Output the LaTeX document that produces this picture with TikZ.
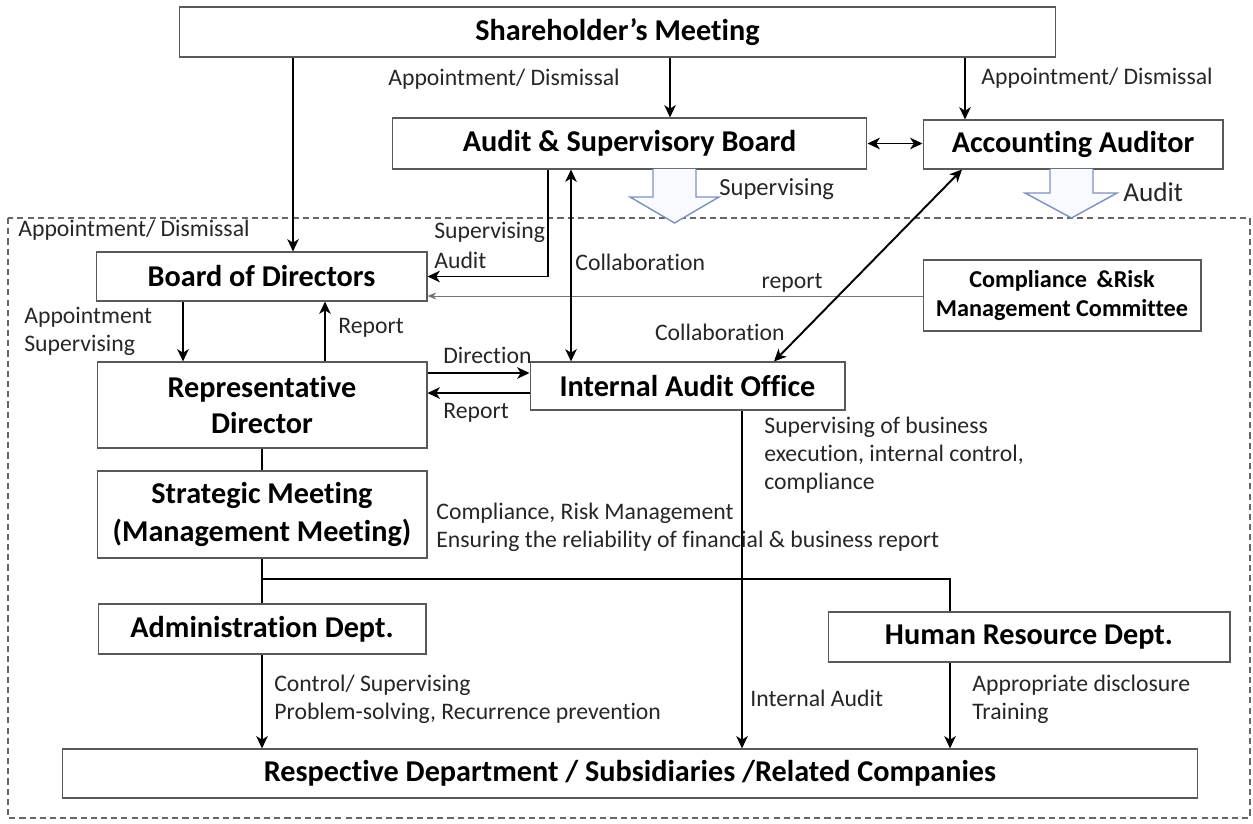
\documentclass[tikz,border=0pt]{standalone}
\usepackage{fontspec}
\setmainfont{Carlito}[Ligatures=NoCommon]
\usetikzlibrary{arrows.meta}

\definecolor{hollowline}{RGB}{125,145,190}
\definecolor{hollowfill}{RGB}{249,250,255}

\tikzset{
  box/.style={draw=black!65, line width=0.6pt, fill=white, inner sep=0pt,
    align=center, font=\fontsize{17.2}{20}\selectfont\bfseries},
  lbl/.style={anchor=west, inner sep=0pt, align=left,
    font=\fontsize{13.5}{16}\selectfont, text=black!85},
  arr/.style={-{Stealth[length=7pt,width=6.5pt,inset=2pt]}, line width=1.1pt},
  darr/.style={{Stealth[length=7pt,width=6.5pt,inset=2pt]}-{Stealth[length=7pt,width=6.5pt,inset=2pt]}, line width=1.1pt},
  hollow/.style={draw=hollowline, line width=0.8pt, fill=hollowfill}
}

\begin{document}
\begin{tikzpicture}[x=0.02cm, y=-0.02cm]
    \useasboundingbox (0,0) rectangle (1253,824);

    % outer dashed frame
    \draw[black!60, line width=0.7pt, dash pattern=on 3.5pt off 2.3pt] (8,218) rectangle (1250,818);

    % boxes
    \node[box, minimum width=17.54cm, minimum height=1.0cm] (sm) at (617.5,32) {Shareholder’s Meeting};
    \node[box, minimum width=9.5cm, minimum height=1.02cm] (asb) at (629.5,143.5) {Audit \& Supervisory Board};
    \node[box, minimum width=6.0cm, minimum height=0.98cm] (aa) at (1073,144.5) {Accounting Auditor};
    \node[box, minimum width=6.62cm, minimum height=0.98cm] (bod) at (261.5,276.5) {Board of Directors};
    \node[box, minimum width=5.56cm, minimum height=1.42cm,
          font=\fontsize{13.8}{16}\selectfont\bfseries] (crm) at (1062,295.5) {Compliance \,\&Risk\\Management Committee};
    \node[box, minimum width=6.6cm, minimum height=1.72cm] (rd) at (262,405) {Representative\\Director};
    \node[box, minimum width=6.3cm, minimum height=0.96cm] (iao) at (687.5,386) {Internal Audit Office};
    \node[box, minimum width=6.6cm, minimum height=1.74cm,
          font=\fontsize{17.2}{22}\selectfont\bfseries] (stm) at (262,514.5) {Strategic Meeting\\(Management Meeting)};
    \node[box, minimum width=6.56cm, minimum height=1.0cm] (adm) at (262,629) {Administration Dept.};
    \node[box, minimum width=8.04cm, minimum height=1.0cm] (hrd) at (1029,637) {Human Resource Dept.};
    \node[box, minimum width=22.72cm, minimum height=0.98cm] (rsp) at (630,773.5) {Respective Department / Subsidiaries /Related Companies};

    % hollow arrows
    \draw[hollow] (653,169) -- (653,197) -- (630,197) -- (674.5,223) -- (719,197) -- (696,197) -- (696,169);
    \draw[hollow] (1050,169) -- (1050,193) -- (1025,193) -- (1071.5,218) -- (1117,193) -- (1093,193) -- (1093,169);

    % connectors
    \draw[arr] (sm.south -| 293,0) -- (bod.north -| 293,0);
    \draw[arr] (sm.south -| 670,0) -- (asb.north -| 670,0);
    \draw[arr] (sm.south -| 965,0) -- (aa.north -| 965,0);
    \draw[darr] (asb.east) -- (asb.east -| aa.west);
    \draw[arr] (asb.south -| 548,0) |- (bod.east);
    \draw[black!55, line width=0.5pt, -{Stealth[length=5pt,width=4pt]}] (crm.west |- 0,296) -- (bod.east |- 0,296);
    \draw[darr] (asb.south -| 571,0) -- (iao.north -| 571,0);
    \draw[darr] (aa.south -| 962,0) -- (iao.north -| 774,0);
    \draw[arr] (bod.south -| 183,0) -- (rd.north -| 183,0);
    \draw[arr] (rd.north -| 325,0) -- (bod.south -| 325,0);
    \draw[arr] (rd.east |- 0,373) -- (iao.west |- 0,373);
    \draw[arr] (iao.west |- 0,393) -- (rd.east |- 0,393);
    \draw[line width=1.1pt] (rd.south) -- (stm.north);
    \draw[line width=1.1pt] (stm.south) -- (adm.north);
    \draw[line width=1.1pt] (stm.south |- 0,579) -| (hrd.north -| 950,0);
    \draw[arr] (iao.south -| 742,0) -- (rsp.north -| 742,0);
    \draw[arr] (adm.south) -- (rsp.north -| adm.south);
    \draw[arr] (hrd.south -| 950,0) -- (rsp.north -| 950,0);

    % labels
    \node[lbl] (l1) at (388,79) {Appointment/ Dismissal};
    \node[lbl] (l2) at (981,78) {Appointment/ Dismissal};
    \node[lbl, font=\fontsize{14}{16}\selectfont] (l3) at (719,189) {Supervising};
    \node[lbl, font=\fontsize{15.5}{16}\selectfont] (l4) at (1123,192) {Audit};
    \node[lbl] (l5) at (18,230) {Appointment/ Dismissal};
    \node[lbl, font=\fontsize{13.5}{17}\selectfont] (l6) at (434,245) {Supervising\\Audit};
    \node[lbl] (l7) at (575,262) {Collaboration};
    \node[lbl, anchor=center] (l8) at (792,283) {report};
    \node[lbl, anchor=east] (l9) at (785,332) {Collaboration};
    \node[lbl] (l10) at (24,331) {Appointment\\Supervising};
    \node[lbl] (l11) at (338,328) {Report};
    \node[lbl] (l12) at (443,355) {Direction};
    \node[lbl] (l13) at (443,413) {Report};
    \node[lbl] (l14) at (764,455) {Supervising of business\\execution, internal control,\\compliance};
    \node[lbl] (l15) at (436,527.5) {Compliance, Risk Management\\Ensuring the reliability of financial \& business report};
    \node[lbl] (l16) at (274,699) {Control/ Supervising\\Problem-solving, Recurrence prevention};
    \node[lbl] (l17) at (750,698) {Internal Audit};
    \node[lbl] (l18) at (972,699) {Appropriate disclosure\\Training};

\end{tikzpicture}
\end{document}
